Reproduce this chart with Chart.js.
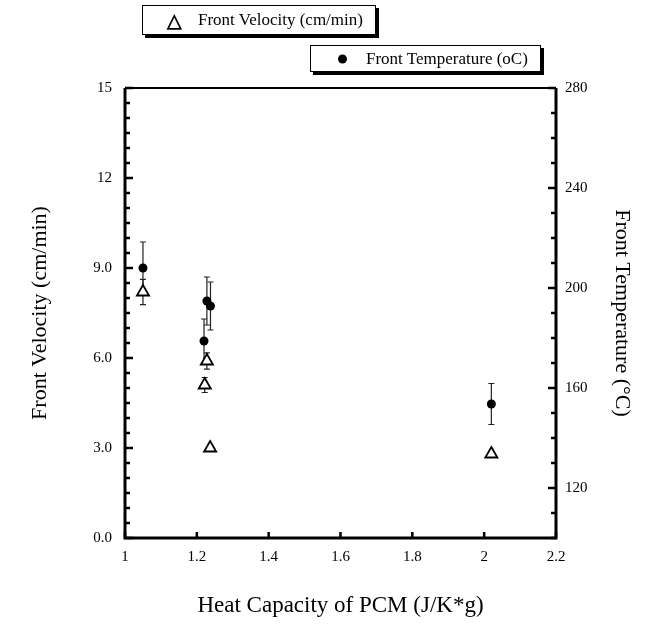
<!DOCTYPE html>
<html>
<head>
<meta charset="utf-8">
<script src="https://cdn.jsdelivr.net/npm/chart.js@4/dist/chart.umd.min.js"></script>
<style>
    body { margin: 0; background: #fff; }
    #wrap { position: relative; width: 654px; height: 624px; }
    .legend-box {
        position: absolute;
        background: #fff;
        border: 1px solid #000;
        box-shadow: 3px 3px 0 #000;
        font-family: 'Liberation Serif', 'Times New Roman', serif;
        font-size: 17px;
        color: #000;
        white-space: nowrap;
        box-sizing: border-box;
    }
    .legend-box span { position: absolute; top: 50%; transform: translateY(-50%); }
    .dot { width: 9px; height: 9px; border-radius: 50%; background: #000; }
</style>
</head>
<body>
<div id="wrap">
    <canvas id="pcmChart" width="654" height="624"></canvas>
    <div class="legend-box" style="left:142px; top:5px; width:234px; height:30px;">
        <span style="left:24px; font-size:19px; font-weight:bold;">&#9651;</span>
        <span style="left:55px;">Front Velocity (cm/min)</span>
    </div>
    <div class="legend-box" style="left:310px; top:45px; width:231px; height:27px;">
        <span class="dot" style="left:27px;"></span>
        <span style="left:55px;">Front Temperature (oC)</span>
    </div>
</div>
<script>
// Heat capacity of the PCM (x) against front velocity and front temperature
const velocityX = [1.05, 1.228, 1.222, 1.237, 2.02];
const velocityY = [8.2, 5.9, 5.1, 3.0, 2.8];
const velocityErr = [0.42, 0.27, 0.25, 0, 0];

const tempX = [1.05, 1.228, 1.238, 1.22, 2.02];
const tempY = [208, 194.8, 192.8, 178.8, 153.6];
const tempErr = [10.4, 9.6, 9.6, 8.8, 8.2];

const xTicks = [1, 1.2, 1.4, 1.6, 1.8, 2, 2.2];
const xTickText = ['1', '1.2', '1.4', '1.6', '1.8', '2', '2.2'];
const velTicks = [0, 3, 6, 9, 12, 15];
const velTickText = ['0.0', '3.0', '6.0', '9.0', '12', '15'];
const tempTicks = [120, 160, 200, 240, 280];
const tempTickText = ['120', '160', '200', '240', '280'];

const serif = "'Liberation Serif', 'Times New Roman', serif";

function stepTicks(min, max, step) {
    const out = [];
    for (let v = min; v <= max + 1e-9; v += step) out.push({ value: Math.round(v * 100) / 100 });
    return out;
}

function labelFor(value, ticks, text) {
    const i = ticks.findIndex(t => Math.abs(t - value) < 1e-6);
    return i >= 0 ? text[i] : '';
}

// error bars behind the markers
const errorBars = {
    id: 'errorBars',
    beforeDatasetsDraw(chart) {
        const ctx = chart.ctx;
        const xs = chart.scales.x;
        ctx.save();
        ctx.strokeStyle = '#222';
        ctx.lineWidth = 1.2;
        chart.data.datasets.forEach(ds => {
            const ys = chart.scales[ds.yAxisID];
            ds.data.forEach((p, i) => {
                const e = ds.errors[i];
                if (!e) return;
                const px = xs.getPixelForValue(p.x);
                const top = ys.getPixelForValue(p.y + e);
                const bot = ys.getPixelForValue(p.y - e);
                ctx.beginPath();
                ctx.moveTo(px, top); ctx.lineTo(px, bot);
                ctx.moveTo(px - 3, top); ctx.lineTo(px + 3, top);
                ctx.moveTo(px - 3, bot); ctx.lineTo(px + 3, bot);
                ctx.stroke();
            });
        });
        ctx.restore();
    }
};

// box frame plus inward tick marks
const frameTicks = {
    id: 'frameTicks',
    afterDraw(chart) {
        const ctx = chart.ctx;
        const a = chart.chartArea;
        const { x, y, y2 } = chart.scales;
        ctx.save();
        ctx.strokeStyle = '#000';
        ctx.lineWidth = 2.5;
        ctx.beginPath();
        y.ticks.forEach(t => {
            const py = y.getPixelForValue(t.value);
            const len = velTicks.includes(t.value) ? 8 : 5;
            ctx.moveTo(a.left, py); ctx.lineTo(a.left + len, py);
        });
        y2.ticks.forEach(t => {
            const py = y2.getPixelForValue(t.value);
            const len = tempTicks.includes(t.value) ? 8 : 5;
            ctx.moveTo(a.right, py); ctx.lineTo(a.right - len, py);
        });
        x.ticks.forEach(t => {
            const px = x.getPixelForValue(t.value);
            ctx.moveTo(px, a.bottom); ctx.lineTo(px, a.bottom - 6);
        });
        ctx.stroke();

        ctx.lineWidth = 3;
        ctx.beginPath();
        ctx.moveTo(a.left, a.top);
        ctx.lineTo(a.left, a.bottom);
        ctx.lineTo(a.right, a.bottom);
        ctx.lineTo(a.right, a.top);
        ctx.stroke();
        ctx.lineWidth = 2;
        ctx.beginPath();
        ctx.moveTo(a.left, a.top);
        ctx.lineTo(a.right, a.top);
        ctx.stroke();
        ctx.restore();
    }
};

const ctx = document.getElementById('pcmChart');
new Chart(ctx.getContext('2d'), {
    type: 'scatter',
    data: {
        datasets: [
            {
                label: 'Front Temperature (oC)',
                data: tempX.map((v, i) => ({ x: v, y: tempY[i] })),
                errors: tempErr,
                yAxisID: 'y2',
                pointStyle: 'circle',
                pointRadius: 4.5,
                backgroundColor: '#000',
                borderColor: '#000',
                borderWidth: 0
            },
            {
                label: 'Front Velocity (cm/min)',
                data: velocityX.map((v, i) => ({ x: v, y: velocityY[i] })),
                errors: velocityErr,
                yAxisID: 'y',
                pointStyle: 'triangle',
                pointRadius: 7,
                backgroundColor: '#fff',
                borderColor: '#000',
                borderWidth: 1.8
            }
        ]
    },
    options: {
        responsive: false,
        animation: false,
        layout: { padding: { top: 88, left: 0, right: 0, bottom: 0 } },
        plugins: {
            legend: { display: false },
            tooltip: { enabled: false }
        },
        scales: {
            x: {
                type: 'linear',
                min: 1,
                max: 2.2,
                afterBuildTicks: s => { s.ticks = xTicks.map(v => ({ value: v })); },
                afterFit: s => { s.height = 86; },
                grid: { display: false, drawTicks: false },
                border: { display: false },
                ticks: {
                    autoSkip: false,
                    maxRotation: 0,
                    padding: 10,
                    color: '#000',
                    font: { family: serif, size: 15 },
                    callback: v => labelFor(v, xTicks, xTickText)
                },
                title: {
                    display: true,
                    text: 'Heat Capacity of PCM (J/K*g)',
                    color: '#000',
                    font: { family: serif, size: 23 },
                    padding: { top: 0, bottom: 4 }
                }
            },
            y: {
                type: 'linear',
                position: 'left',
                min: 0,
                max: 15,
                afterBuildTicks: s => { s.ticks = stepTicks(0, 15, 0.5); },
                afterFit: s => { s.width = 125; },
                grid: { display: false, drawTicks: false },
                border: { display: false },
                ticks: {
                    autoSkip: false,
                    padding: 13,
                    color: '#000',
                    font: { family: serif, size: 15 },
                    callback: v => labelFor(v, velTicks, velTickText)
                },
                title: {
                    display: true,
                    text: 'Front Velocity (cm/min)',
                    color: '#000',
                    font: { family: serif, size: 22 },
                    padding: { top: 27, bottom: 0 }
                }
            },
            y2: {
                type: 'linear',
                position: 'right',
                min: 100,
                max: 280,
                afterBuildTicks: s => { s.ticks = stepTicks(100, 280, 10); },
                afterFit: s => { s.width = 98; },
                grid: { display: false, drawTicks: false },
                border: { display: false },
                ticks: {
                    autoSkip: false,
                    padding: 9,
                    color: '#000',
                    font: { family: serif, size: 15 },
                    callback: v => labelFor(v, tempTicks, tempTickText)
                },
                title: {
                    display: true,
                    text: 'Front Temperature (\u00b0C)',
                    color: '#000',
                    font: { family: serif, size: 22 },
                    padding: { top: 19, bottom: 0 }
                }
            }
        }
    },
    plugins: [errorBars, frameTicks]
});
</script>
</body>
</html>
